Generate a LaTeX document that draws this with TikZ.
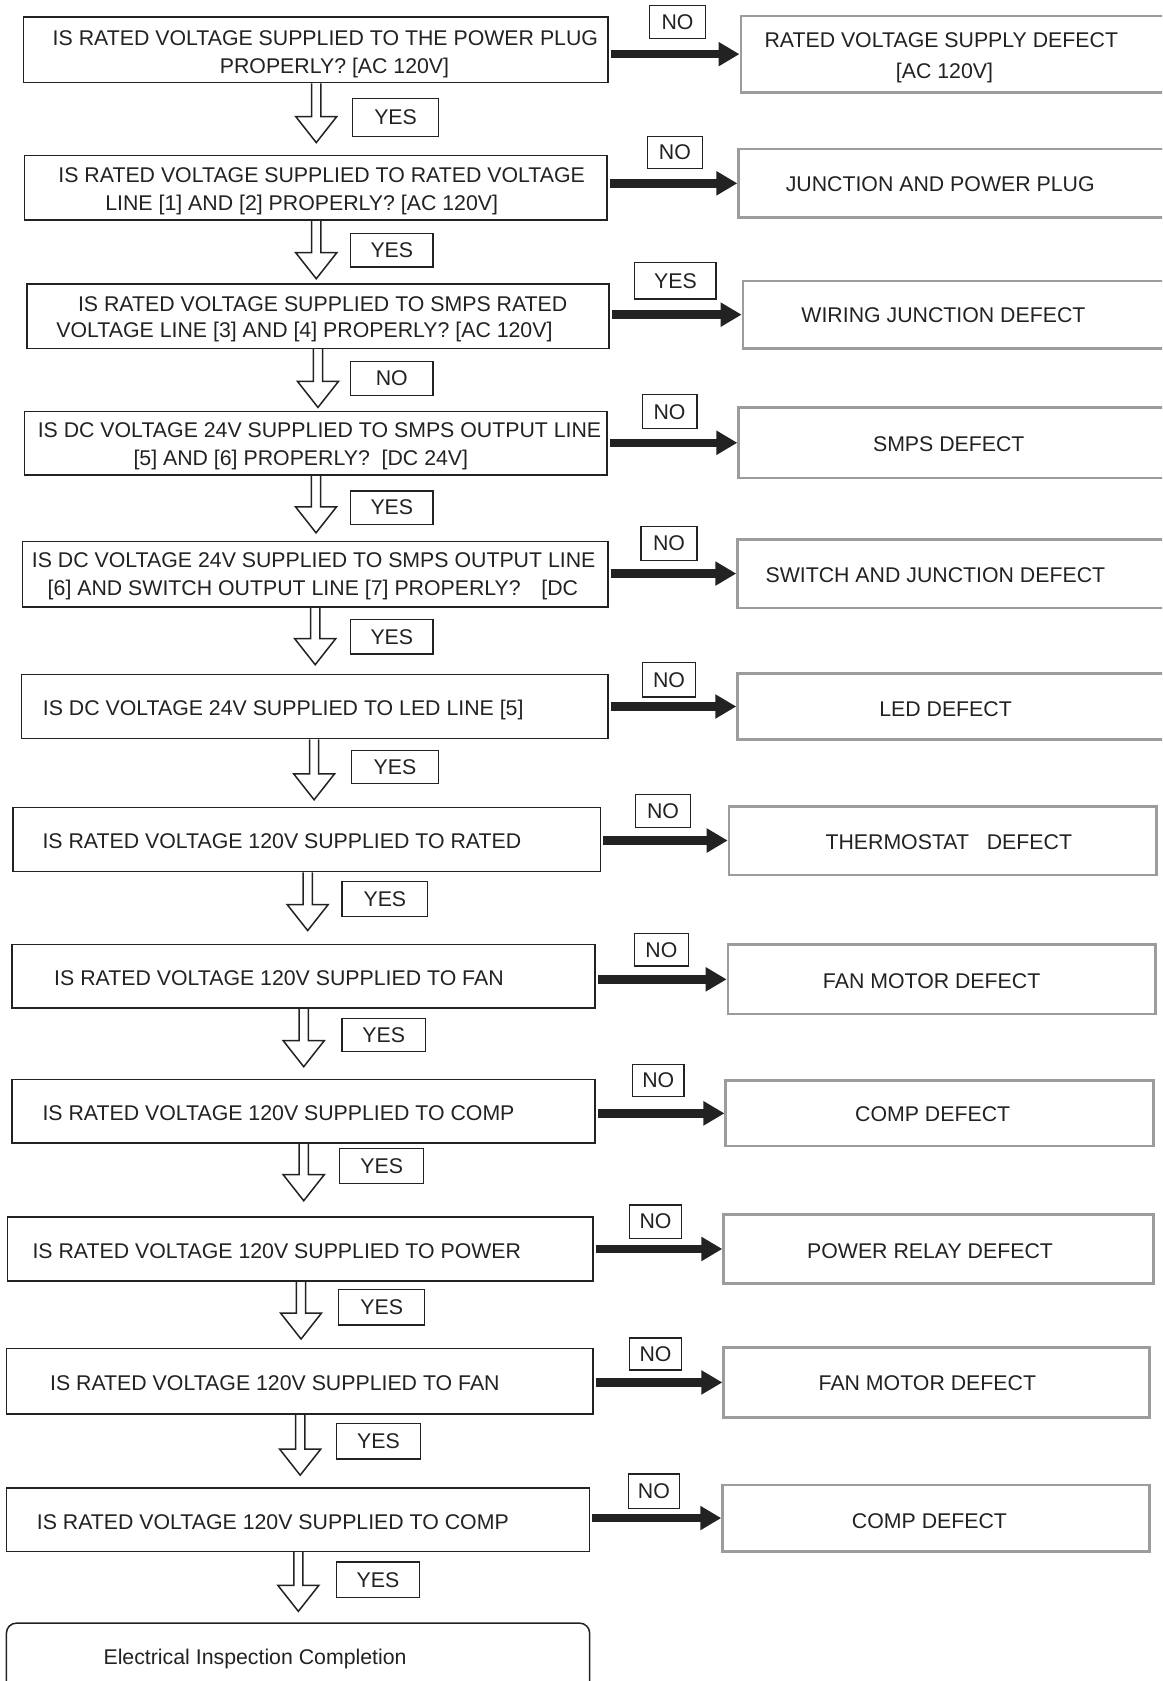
\documentclass[tikz,border=0pt]{standalone}
\usepackage{fontspec}
\setmainfont{Liberation Sans}
\usetikzlibrary{arrows.meta,fit,calc}
\definecolor{ink}{HTML}{222222}
\definecolor{boxgray}{HTML}{9C9C9C}
\newcommand\tf{\fontsize{21.3pt}{25pt}\selectfont}
\tikzset{
  qbox/.style={draw=ink, line width=1.5pt, inner sep=0pt},
  rbox/.style={draw=boxgray, line width=2.6pt, inner sep=0pt},
  lbl/.style={draw=ink, line width=1.3pt, inner sep=0pt,
    label={[inner sep=0pt, font=\tf, text=ink, anchor=center]center:#1}},
  txt/.style={inner sep=0pt, font=\tf, text=ink, anchor=base},
  ltxt/.style={inner sep=0pt, font=\tf, text=ink, anchor=base west},
  noarr/.style={draw=ink, line width=8.5pt, shorten <=2pt, -{Triangle[length=21pt,width=23pt]}},
  hollow/.style={draw=ink, line width=1.5pt, line join=miter}
}
\newcommand\hollowarr[2]{%
  \draw[hollow] let \p1=(#1.south -| #2), \p2=(#2) in
    (\x1-4.6pt,\y1) -- (\x1-4.6pt,\y2+26pt) -- (\x1-20.5pt,\y2+26pt) -- (\x2,\y2)
    -- (\x1+20.5pt,\y2+26pt) -- (\x1+4.6pt,\y2+26pt) -- (\x1+4.6pt,\y1);
}
\begin{document}
\begin{tikzpicture}[x=1.072pt,y=-1.072pt]
\useasboundingbox (0,0) rectangle (1084,1568);
\fill[white] (0,0) rectangle (1084,1568);
\clip (0,0) rectangle (1084,1568);

% ---------- question boxes ----------
\node[qbox, fit={(22,16) (567,77)}] (q1) {};
\node[qbox, fit={(23,145) (566,205)}] (q2) {};
\node[qbox, fit={(25,265) (568,325)}] (q3) {};
\node[qbox, fit={(23,384) (566,443)}] (q4) {};
\node[qbox, fit={(21,505) (567,566)}] (q5) {};
\node[qbox, fit={(20,629) (567,689)}] (q6) {};
\node[qbox, fit={(12,753) (560,813)}] (q7) {};
\node[qbox, fit={(11,881) (555,940)}] (q8) {};
\node[qbox, fit={(11,1007) (555,1066)}] (q9) {};
\node[qbox, fit={(7,1135) (553,1195)}] (q10) {};
\node[qbox, fit={(6,1258) (553,1319)}] (q11) {};
\node[qbox, fit={(6,1388) (550,1447)}] (q12) {};
\node[qbox, rounded corners=10pt, fit={(6,1514) (550,1600)}] (fin) {};

% ---------- question texts ----------
\node[txt] (q1a) at (303.5,42) {IS RATED VOLTAGE SUPPLIED TO THE POWER PLUG};
\node[txt] (q1b) at (312,68.6) {PROPERLY? [AC 120V]};
\node[txt] (q2a) at (300,170) {IS RATED VOLTAGE SUPPLIED TO RATED VOLTAGE};
\node[txt] (q2b) at (281.4,196) {LINE [1] AND [2] PROPERLY? [AC 120V]};
\node[txt] (q3a) at (301,291) {IS RATED VOLTAGE SUPPLIED TO SMPS RATED};
\node[txt] (q3b) at (284,315) {VOLTAGE LINE [3] AND [4] PROPERLY? [AC 120V]};
\node[txt] (q4a) at (298,408) {IS DC VOLTAGE 24V SUPPLIED TO SMPS OUTPUT LINE};
\node[txt] (q4b) at (280.6,434) {[5] AND [6] PROPERLY?\ \ [DC 24V]};
\node[txt] (q5a) at (292.6,529.6) {IS DC VOLTAGE 24V SUPPLIED TO SMPS OUTPUT LINE};
\node[txt] (q5b) at (291.9,555.6) {[6] AND SWITCH OUTPUT LINE [7] PROPERLY?\hspace{0.97em}[DC};
\node[ltxt] (q6a) at (39.8,667) {IS DC VOLTAGE 24V SUPPLIED TO LED LINE [5]};
\node[ltxt] (q7a) at (39.5,791) {IS RATED VOLTAGE 120V SUPPLIED TO RATED};
\node[ltxt] (q8a) at (50.4,919.5) {IS RATED VOLTAGE 120V SUPPLIED TO FAN};
\node[ltxt] (q9a) at (39.5,1045) {IS RATED VOLTAGE 120V SUPPLIED TO COMP};
\node[ltxt] (q10a) at (30.2,1173.5) {IS RATED VOLTAGE 120V SUPPLIED TO POWER};
\node[ltxt] (q11a) at (46.6,1297) {IS RATED VOLTAGE 120V SUPPLIED TO FAN};
\node[ltxt] (q12a) at (34.2,1426.5) {IS RATED VOLTAGE 120V SUPPLIED TO COMP};
\node[ltxt] (fina) at (96.4,1553) {Electrical Inspection Completion};

% ---------- result boxes ----------
\node[rbox, fit={(691,15) (1100,86)}] (r1) {};
\node[rbox, fit={(689,139) (1100,203)}] (r2) {};
\node[rbox, fit={(693,262) (1100,325)}] (r3) {};
\node[rbox, fit={(689,380) (1100,446)}] (r4) {};
\node[rbox, fit={(688,503) (1100,567)}] (r5) {};
\node[rbox, fit={(688,628) (1100,690)}] (r6) {};
\node[rbox, fit={(680,752) (1079,816)}] (r7) {};
\node[rbox, fit={(679,881) (1078,946)}] (r8) {};
\node[rbox, fit={(677,1008) (1076,1069)}] (r9) {};
\node[rbox, fit={(675,1133) (1076,1197)}] (r10) {};
\node[rbox, fit={(675,1257) (1072,1322)}] (r11) {};
\node[rbox, fit={(674,1385) (1072,1447)}] (r12) {};

\node[txt] (r1a) at (878,44) {RATED VOLTAGE SUPPLY DEFECT};
\node[txt] (r1b) at (881,73) {[AC 120V]};
\node[txt] (r2a) at (877,179) {JUNCTION AND POWER PLUG};
\node[txt] (r3a) at (880,301) {WIRING JUNCTION DEFECT};
\node[txt] (r4a) at (885,421.5) {SMPS DEFECT};
\node[txt] (r5a) at (872.5,543) {SWITCH AND JUNCTION DEFECT};
\node[txt] (r6a) at (882,668) {LED DEFECT};
\node[txt] (r7a) at (885,792) {THERMOSTAT\ \ \ DEFECT};
\node[txt] (r8a) at (869,922) {FAN MOTOR DEFECT};
\node[txt] (r9a) at (870,1046) {COMP DEFECT};
\node[txt] (r10a) at (867.5,1174) {POWER RELAY DEFECT};
\node[txt] (r11a) at (865,1297) {FAN MOTOR DEFECT};
\node[txt] (r12a) at (867,1426) {COMP DEFECT};

% ---------- side labels ----------
\node[lbl=NO, fit={(606,5) (658,36)}] (n1) {};
\node[lbl=NO, fit={(604,127) (655,157)}] (n2) {};
\node[lbl=YES, fit={(592,245) (668,279)}] (n3) {};
\node[lbl=NO, fit={(599,368) (650,400)}] (n4) {};
\node[lbl=NO, fit={(598,491) (650,523)}] (n5) {};
\node[lbl=NO, fit={(599,618) (649,650)}] (n6) {};
\node[lbl=NO, fit={(593,741) (644,772)}] (n7) {};
\node[lbl=NO, fit={(592,871) (642,901)}] (n8) {};
\node[lbl=NO, fit={(590,993) (638,1023)}] (n9) {};
\node[lbl=NO, fit={(587,1124) (636,1155)}] (n10) {};
\node[lbl=NO, fit={(587,1248) (636,1278)}] (n11) {};
\node[lbl=NO, fit={(586,1375) (634,1407)}] (n12) {};

% ---------- down labels ----------
\node[lbl=YES, fit={(329,92) (409,127)}] (y1) {};
\node[lbl=YES, fit={(327,218) (404,249)}] (y2) {};
\node[lbl=NO, fit={(327,337) (404,369)}] (y3) {};
\node[lbl=YES, fit={(327,458) (404,489)}] (y4) {};
\node[lbl=YES, fit={(327,578) (404,610)}] (y5) {};
\node[lbl=YES, fit={(328,700) (409,731)}] (y6) {};
\node[lbl=YES, fit={(319,822) (399,855)}] (y7) {};
\node[lbl=YES, fit={(319,950) (397,981)}] (y8) {};
\node[lbl=YES, fit={(317,1071) (395,1104)}] (y9) {};
\node[lbl=YES, fit={(316,1203) (396,1236)}] (y10) {};
\node[lbl=YES, fit={(314,1328) (392,1361)}] (y11) {};
\node[lbl=YES, fit={(314,1457) (391,1490)}] (y12) {};

% ---------- horizontal arrows ----------
\foreach \i in {1,...,12}{
  \draw[noarr] (q\i.east |- r\i.west) -- (r\i.west);
}

% ---------- hollow down arrows ----------
\coordinate (t1) at (295,133);
\coordinate (t2) at (295,260);
\coordinate (t3) at (296.6,380);
\coordinate (t4) at (294.8,497);
\coordinate (t5) at (294,620);
\coordinate (t6) at (293,746);
\coordinate (t7) at (287,868);
\coordinate (t8) at (283.3,995);
\coordinate (t9) at (283.3,1120);
\coordinate (t10) at (280.8,1249);
\coordinate (t11) at (280,1376);
\coordinate (t12) at (278.3,1503);
\foreach \i in {1,...,12}{
  \hollowarr{q\i}{t\i}
}
\end{tikzpicture}
\end{document}
